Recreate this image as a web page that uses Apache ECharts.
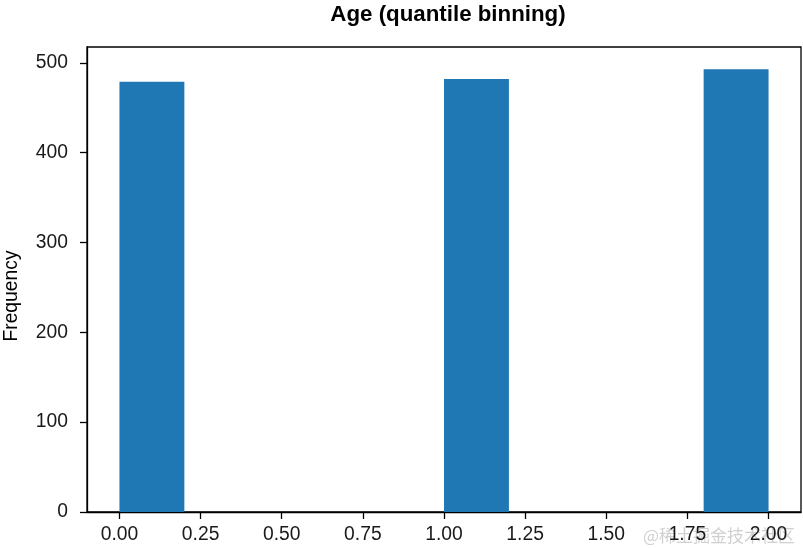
<!DOCTYPE html>
<html>
<head>
<meta charset="utf-8">
<script src="https://cdn.jsdelivr.net/npm/echarts@6/dist/echarts.min.js"></script>
<style>
html,body{margin:0;padding:0;background:#fff;}
#chart{width:803px;height:548px;}
</style>
</head>
<body>
<div id="chart"></div>
<script>
// Histogram bin edges (10 bins, width 0.2) and counts
var binEdges = [0.0, 0.2, 0.4, 0.6, 0.8, 1.0, 1.2, 1.4, 1.6, 1.8, 2.0];
var binCounts = [479, 0, 0, 0, 0, 482, 0, 0, 0, 493];
var xTicks = [0.00, 0.25, 0.50, 0.75, 1.00, 1.25, 1.50, 1.75, 2.00];
var yTicks = [0, 100, 200, 300, 400, 500];
var titleText = 'Age (quantile binning)';
var yLabel = 'Frequency';

var barData = [];
for (var i = 0; i < binCounts.length; i++) {
  if (binCounts[i] > 0) barData.push([binEdges[i], binEdges[i + 1], binCounts[i]]);
}
var maxCount = Math.max.apply(null, binCounts);
var xSpan = binEdges[binEdges.length - 1] - binEdges[0];

var chart = echarts.init(document.getElementById('chart'), null, {renderer: 'canvas'});
var font = 'Liberation Sans, Arial, sans-serif';
chart.setOption({
  animation: false,
  backgroundColor: '#ffffff',
  title: {
    text: titleText,
    left: 443, textAlign: 'center', top: -1,
    textStyle: {fontFamily: font, fontSize: 22.3, fontWeight: 'bold', color: '#000'}
  },
  grid: {left: 87, right: 2, top: 47, bottom: 36, show: true, borderColor: '#000', borderWidth: 1.3},
  xAxis: {
    type: 'value',
    min: binEdges[0] - 0.05 * xSpan,
    max: binEdges[binEdges.length - 1] + 0.05 * xSpan,
    axisLine: {show: true, onZero: false, lineStyle: {color: '#000', width: 1.3}},
    axisTick: {show: true, length: 7, customValues: xTicks, lineStyle: {color: '#000', width: 1.3}},
    axisLabel: {customValues: xTicks, margin: 13, fontFamily: font, fontSize: 19.3, color: '#1a1a1a',
      formatter: function (v) { return v.toFixed(2); }},
    splitLine: {show: false}
  },
  yAxis: {
    type: 'value',
    min: 0,
    max: maxCount * 1.05,
    axisLine: {show: true, onZero: false, lineStyle: {color: '#000', width: 1.3}},
    axisTick: {show: true, length: 7, customValues: yTicks, lineStyle: {color: '#000', width: 1.3}},
    axisLabel: {customValues: yTicks, margin: 19, fontFamily: font, fontSize: 19.3, color: '#1a1a1a'},
    splitLine: {show: false}
  },
  graphic: [
    {type: 'text', x: 12, y: 296, rotation: Math.PI / 2,
      style: {text: yLabel, fontFamily: font, fontSize: 19.3, fill: '#000', align: 'center', verticalAlign: 'middle'}},
    {type: 'text', right: 8, bottom: 4,
      style: {text: '@稀土掘金技术社区', fontFamily: 'Noto Sans CJK SC, sans-serif', fontSize: 17, fill: 'rgba(170,170,170,0.55)'}}
  ],
  series: [{
    type: 'custom',
    data: barData,
    renderItem: function (params, api) {
      var p0 = api.coord([api.value(0), api.value(2)]);
      var p1 = api.coord([api.value(1), 0]);
      return {type: 'rect', shape: {x: p0[0], y: p0[1], width: p1[0] - p0[0], height: p1[1] - p0[1]},
        style: {fill: '#1f77b4'}};
    },
    encode: {x: [0, 1], y: 2}
  }]
});
</script>
</body>
</html>
